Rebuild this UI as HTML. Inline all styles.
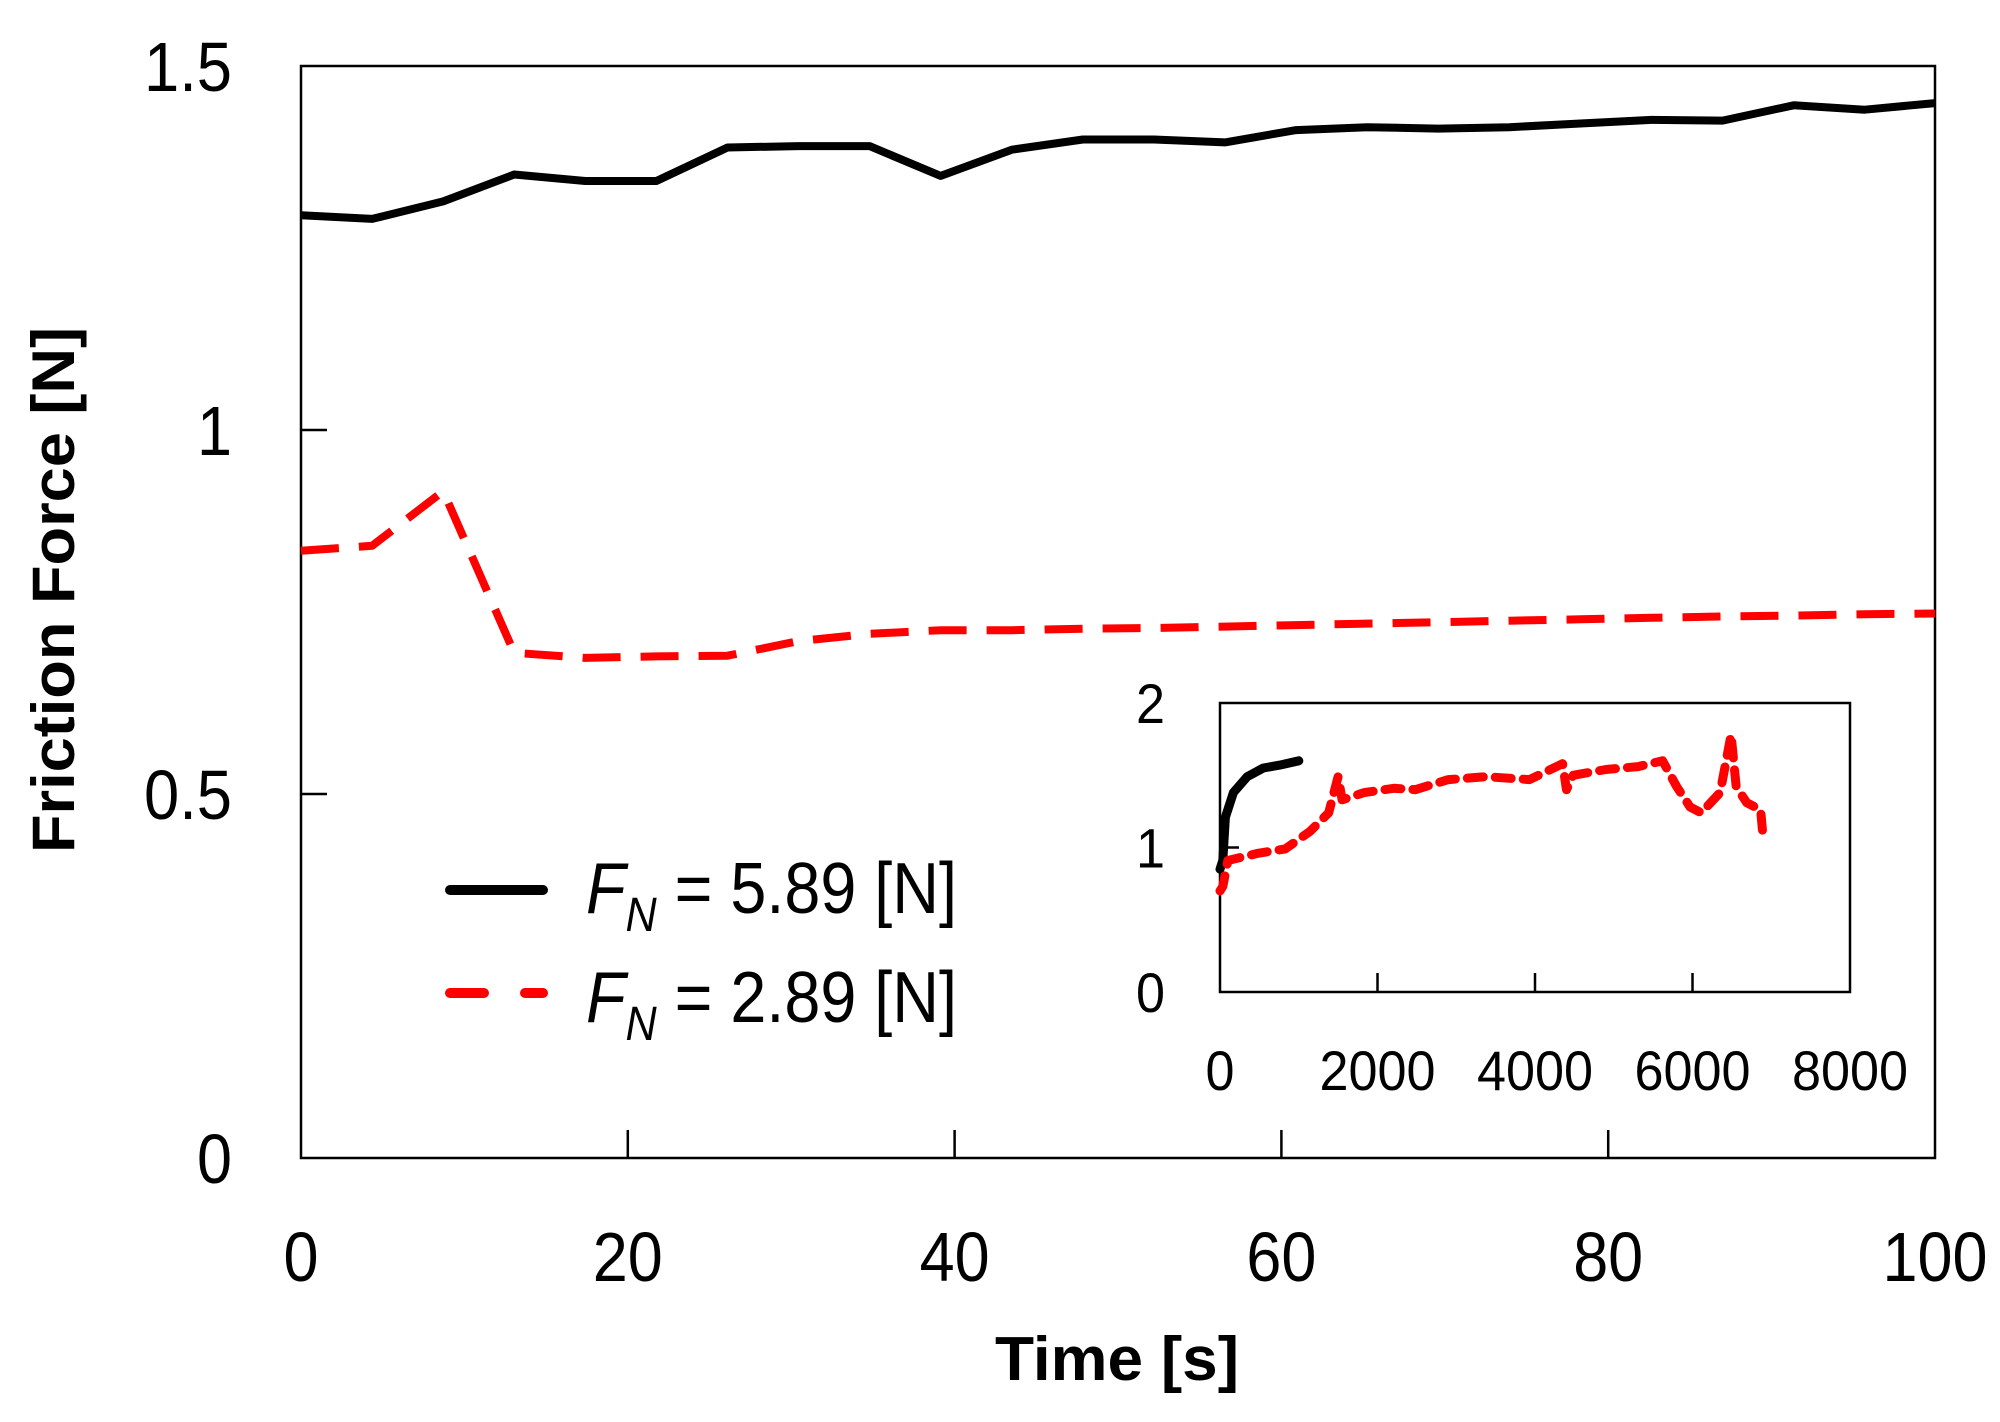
<!DOCTYPE html>
<html><head><meta charset="utf-8"><style>
html,body{margin:0;padding:0;background:#fff;}
svg{display:block;font-family:"Liberation Sans",sans-serif;}
</style></head><body>
<svg id="chart" width="2000" height="1422" viewBox="0 0 2000 1422">
<g id="main"></g>
<g id="inset"></g>
</svg>
<script>
const mainTimes=[0,4.35,8.7,13.05,17.4,21.75,26.1,30.45,34.8,39.15,43.5,47.85,52.2,56.55,60.9,65.25,69.6,73.95,78.3,82.65,87,91.35,95.7,100];
const mainHigh=[1.295,1.29,1.314,1.351,1.342,1.342,1.388,1.39,1.39,1.349,1.385,1.399,1.399,1.395,1.412,1.416,1.414,1.416,1.421,1.426,1.425,1.446,1.44,1.449];
const mainLow=[0.834,0.841,0.916,0.694,0.687,0.689,0.69,0.71,0.72,0.725,0.725,0.727,0.728,0.73,0.732,0.734,0.736,0.738,0.74,0.742,0.744,0.745,0.747,0.748];
const mainXTicks=[0,20,40,60,80,100];
const mainYTicks=[0,0.5,1,1.5];
const mainYLabels=["0","0.5","1","1.5"];
const insetHighT=[0,35,69,170,345,550,760,1000];
const insetHighV=[0.85,0.91,1.21,1.38,1.49,1.55,1.57,1.6];
const insetLowT=[0,35,100,483,828,1140,1380,1500,1550,1830,2210,2480,2900,3380,3930,4350,4400,4485,4900,5310,5620,5800,5970,6110,6350,6490,6555,6690,6865,6900];
const insetLowV=[0.7,0.73,0.91,0.96,0.99,1.11,1.24,1.49,1.33,1.38,1.41,1.40,1.47,1.49,1.47,1.58,1.40,1.50,1.54,1.56,1.60,1.42,1.28,1.24,1.38,1.78,1.42,1.31,1.26,1.05];
const insetXTicks=[0,2000,4000,6000,8000];
const insetYTicks=[0,1,2];

const NS="http://www.w3.org/2000/svg";
function mk(parent,tag,attrs,text){const e=document.createElementNS(NS,tag);for(const k in attrs)e.setAttribute(k,attrs[k]);if(text!==undefined)e.textContent=text;parent.appendChild(e);return e;}
function lenOf(s,d,p){let n=0;for(const c of s)n+=(c==='.'?p:d);return n;}

const M={l:301,r:1935,t:66,b:1158};
const mx=v=>M.l+(v-0)/(100-0)*(M.r-M.l);
const my=v=>M.b-(v-0)/(1.5-0)*(M.b-M.t);
const gm=document.getElementById('main');
let frame=mk(gm,'rect',{x:M.l,y:M.t,width:M.r-M.l,height:M.b-M.t,fill:'none',stroke:'#000','stroke-width':2.5});


mainXTicks.forEach(v=>{
  if(v>0&&v<100){const t=mk(gm,'line',{x1:mx(v),x2:mx(v),y1:M.b,y2:M.b-28,stroke:'#000','stroke-width':2.5});
  
  }
  const s=String(v);
  const l=mk(gm,'text',{x:mx(v),y:1281,'text-anchor':'middle','font-size':70,textLength:lenOf(s,35,16),lengthAdjust:'spacingAndGlyphs'},s);
  
  
});
mainYTicks.forEach((v,i)=>{
  if(v>0&&v<1.5){const t=mk(gm,'line',{x1:M.l,x2:M.l+26,y1:my(v),y2:my(v),stroke:'#000','stroke-width':2.5});
  
  }
  const s=mainYLabels[i];
  const l=mk(gm,'text',{x:232,y:my(v)+25,'text-anchor':'end','font-size':70,textLength:lenOf(s,35,18),lengthAdjust:'spacingAndGlyphs'},s);
  
  
});
const xt=mk(gm,'text',{x:1117,y:1380,'text-anchor':'middle','font-size':62,'font-weight':'bold',textLength:244,lengthAdjust:'spacingAndGlyphs'},'Time [s]');


const yt=mk(gm,'text',{x:0,y:0,'text-anchor':'middle','font-size':60,'font-weight':'bold',textLength:526,lengthAdjust:'spacingAndGlyphs',transform:'translate(74,590) rotate(-90)'},'Friction Force [N]');


function path(xs,ys,fx,fy){return xs.map((x,i)=>(i?'L':'M')+fx(x).toFixed(1)+','+fy(ys[i]).toFixed(1)).join(' ');}
const lh=mk(gm,'path',{d:path(mainTimes,mainHigh,mx,my),fill:'none',stroke:'#000','stroke-width':8,'stroke-linejoin':'round'});


const ll=mk(gm,'path',{d:path(mainTimes,mainLow,mx,my),fill:'none',stroke:'#ff0000','stroke-width':8,'stroke-dasharray':'38 20','stroke-linejoin':'round'});



const lg=mk(gm,'g',{});


const l1=mk(lg,'line',{x1:450,x2:543,y1:890,y2:890,stroke:'#000','stroke-width':10,'stroke-linecap':'round'});


const l2=mk(lg,'path',{d:'M450,993 L484,993 M525,993 L543,993',stroke:'#ff0000','stroke-width':10,'stroke-linecap':'round'});


[[913,'5.89'],[1022,'2.89']].forEach(([y,val])=>{
  const t=mk(lg,'text',{x:586,y:y,'font-size':72,textLength:371,lengthAdjust:'spacingAndGlyphs'});
  
  
  mk(t,'tspan',{'font-style':'italic'},'F');
  mk(t,'tspan',{'font-style':'italic','font-size':48,dy:18},'N');
  mk(t,'tspan',{dy:-18},' = '+val+' [N]');
});

const I={l:1220,r:1850,t:703,b:992};
const ix=v=>I.l+v/8000*(I.r-I.l);
const iy=v=>I.b-v/2*(I.b-I.t);
const gi=document.getElementById('inset');


const ifr=mk(gi,'rect',{x:I.l,y:I.t,width:I.r-I.l,height:I.b-I.t,fill:'#fff',stroke:'#000','stroke-width':2.5});


insetXTicks.forEach(v=>{
  if(v>0&&v<8000){const t=mk(gi,'line',{x1:ix(v),x2:ix(v),y1:I.b,y2:I.b-19,stroke:'#000','stroke-width':2.5});
  
  }
  const s=String(v);
  const l=mk(gi,'text',{x:ix(v),y:1090,'text-anchor':'middle','font-size':56,textLength:s.length*29,lengthAdjust:'spacingAndGlyphs'},s);
  
  
});
insetYTicks.forEach(v=>{
  if(v>0&&v<2){const t=mk(gi,'line',{x1:I.l,x2:I.l+19,y1:iy(v),y2:iy(v),stroke:'#000','stroke-width':2.5});
  
  }
  const l=mk(gi,'text',{x:1165,y:iy(v)+20,'text-anchor':'end','font-size':56,textLength:29,lengthAdjust:'spacingAndGlyphs'},String(v));
  
  
});
const ih=mk(gi,'path',{d:path(insetHighT,insetHighV,ix,iy),fill:'none',stroke:'#000','stroke-width':9,'stroke-linecap':'round','stroke-linejoin':'round'});


const il=mk(gi,'path',{d:path(insetLowT,insetLowV,ix,iy),fill:'none',stroke:'#ff0000','stroke-width':9,'stroke-dasharray':'16 12','stroke-linecap':'round','stroke-linejoin':'round'});


</script>
</body></html>
